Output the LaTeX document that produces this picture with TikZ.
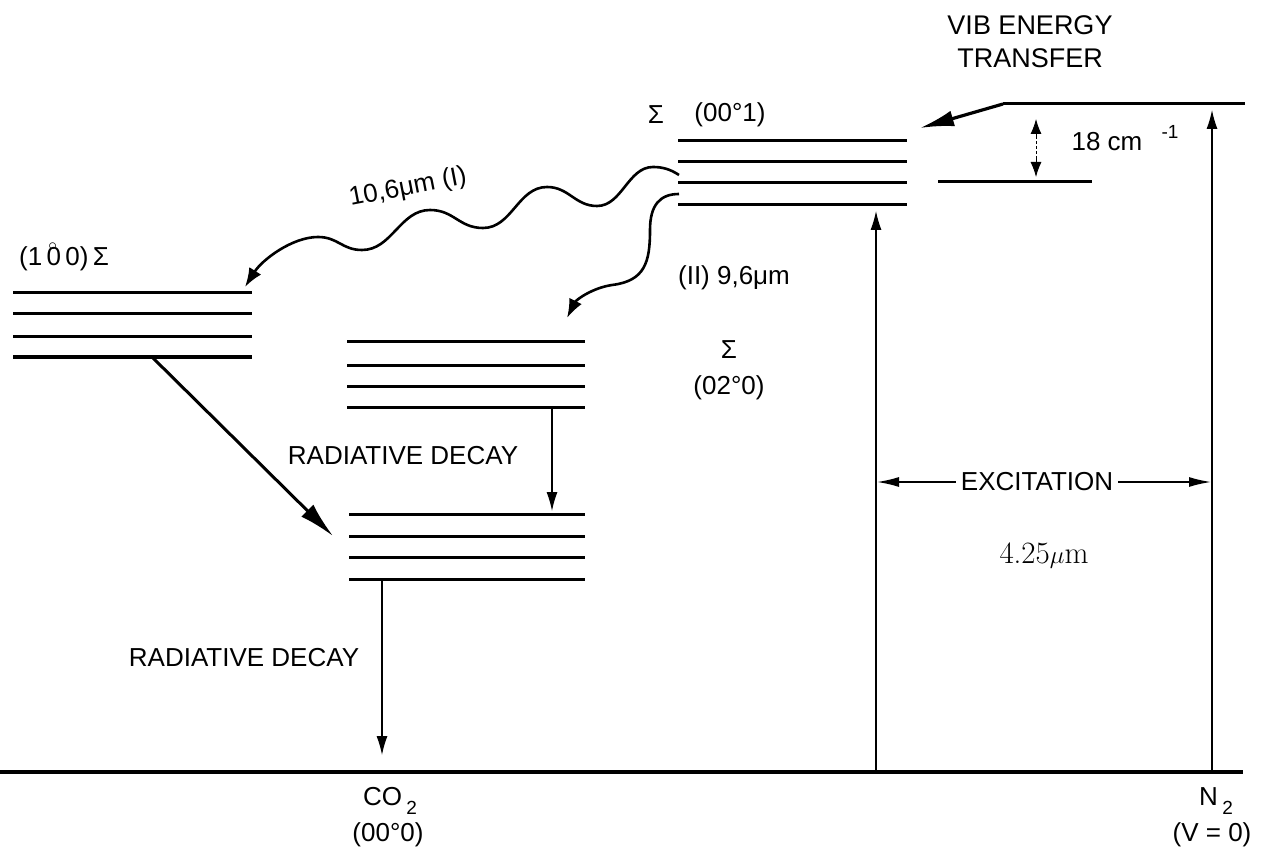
\documentclass[tikz,border=0pt]{standalone}
\usepackage{fontspec}
\usetikzlibrary{arrows.meta}
\newfontfamily\leroy{Liberation Sans}
\newcommand\ringzero{0\llap{\raisebox{15pt}{\fontsize{16}{16}\selectfont$\circ$}\hspace{4pt}}}
\newcommand\lowtwo{\raisebox{-0.35em}{\fontsize{19}{19}\selectfont 2}}
\begin{document}
\begin{tikzpicture}[x=1pt,y=-1pt,
  lvl/.style={line width=3pt},
  ground/.style={line width=3.2pt},
  lbl/.style={font=\leroy\fontsize{26}{32}\selectfont, inner sep=0pt, align=center},
  thinarrow/.style={line width=1.2pt,-{Latex[length=19pt,width=11pt]}},
  bigarrow/.style={line width=3pt,-{Latex[length=36pt,width=17pt]}},
  wavy/.style={line width=2.6pt,-{Latex[length=19pt,width=14pt]}},
  dimarrow/.style={line width=0.9pt,-{Latex[length=15pt,width=11pt]}},
  exarrow/.style={line width=1.6pt,{Latex[length=22pt,width=10pt]}-{Latex[length=22pt,width=10pt]}}
]
\useasboundingbox (0,0) rectangle (1263,858);

% ---------- energy levels ----------
\foreach \i/\y in {1/293,2/314,3/337,4/357}{
  \coordinate (A\i l) at (13,\y); \coordinate (A\i r) at (252,\y);
  \draw[lvl] (A\i l) -- (A\i r);}
\foreach \i/\y in {1/342,2/365,3/386,4/407}{
  \coordinate (B\i l) at (347,\y); \coordinate (B\i r) at (585,\y);
  \draw[lvl] (B\i l) -- (B\i r);}
\foreach \i/\y in {1/514,2/536,3/557,4/579}{
  \coordinate (C\i l) at (349,\y); \coordinate (C\i r) at (585,\y);
  \draw[lvl] (C\i l) -- (C\i r);}
\foreach \i/\y in {1/141,2/162,3/183,4/205}{
  \coordinate (D\i l) at (678,\y); \coordinate (D\i r) at (907,\y);
  \draw[lvl] (D\i l) -- (D\i r);}
\coordinate (NUl) at (1003,104); \coordinate (NUr) at (1245,104);
\draw[lvl] (NUl) -- (NUr);
\coordinate (NLl) at (938,182); \coordinate (NLr) at (1092,182);
\draw[lvl] (NLl) -- (NLr);
\coordinate (G0) at (0,772); \coordinate (G1) at (1243,772);
\draw[ground] (G0) -- (G1);

% ---------- arrows ----------
\coordinate (AdS) at (152,357); \coordinate (AdT) at (333,536);
\draw[bigarrow] (AdS) -- (AdT);
\coordinate (BdS) at (552,407); \coordinate (BdT) at (552,511);
\draw[thinarrow] (BdS) -- (BdT);
\coordinate (CdS) at (382,579); \coordinate (CdT) at (382,755);
\draw[thinarrow] (CdS) -- (CdT);
\coordinate (ExCb) at (876,772); \coordinate (ExCt) at (876,211);
\draw[thinarrow] (ExCb) -- (ExCt);
\coordinate (ExNb) at (1212,772); \coordinate (ExNt) at (1212,110);
\draw[thinarrow] (ExNb) -- (ExNt);
\coordinate (VibT) at (920,128);
\draw[line width=3.2pt,-{Latex[length=34pt,width=16pt]}] (NUl) -- (VibT);

% 18 cm^-1 dimension
\coordinate (Dm1) at (1036,136); \coordinate (Dm0) at (1036,119);
\coordinate (Dm2) at (1036,159); \coordinate (Dm3) at (1036,177);
\draw[line width=0.8pt, densely dashed] (Dm1) -- (Dm2);
\draw[dimarrow] (Dm1) -- (Dm0);
\draw[dimarrow] (Dm2) -- (Dm3);

% wavy emission arrows
\coordinate (W1s) at (679,175); \coordinate (W1t) at (245,287);
\draw[wavy] (W1s) .. controls (670,169) and (662,167) .. (653,167)
  .. controls (628,167) and (622,206) .. (597,206)
  .. controls (575,206) and (569,187) .. (547,187)
  .. controls (518,187) and (512,228) .. (483,228)
  .. controls (459,228) and (454,210) .. (430,210)
  .. controls (400,210) and (392,250) .. (362,250)
  .. controls (342,250) and (338,237) .. (318,237)
  .. controls (292,237) and (262,260) .. (W1t);
\coordinate (W2s) at (679,194); \coordinate (W2t) at (567,318);
\draw[wavy] (W2s) .. controls (660,194) and (650,205) .. (650,230)
  .. controls (650,262) and (645,281) .. (612,285)
  .. controls (592,288) and (576,300) .. (W2t);

% excitation
\coordinate (ExL) at (877,482); \coordinate (ExR) at (1211,482);
\draw[exarrow] (ExL) -- (ExR);
\node[lbl, fill=white, inner xsep=5pt, inner ysep=2pt] (exc) at (1037,482) {EXCITATION};
\node[font=\rmfamily\fontsize{31}{34}\selectfont, inner sep=0pt] (wl) at (1044,556) {4.25$\mu$m};

% ---------- labels ----------
\node[lbl, font=\leroy\fontsize{27}{33}\selectfont] (vib) at (1030,42) {VIB ENERGY\\TRANSFER};
\node[lbl] (cm) at (1107,142) {18 cm};
\node[lbl, font=\leroy\fontsize{19}{19}\selectfont] (cmexp) at (1170,132) {-1};
\node[lbl] (sD) at (656,115) {Σ};
\node[lbl] (lD) at (730,115) {(00°1)};
\node[lbl] (lA) at (64,257) {(1\,\ringzero\,0)\,Σ};
\node[lbl, rotate=11] (l106) at (408,188) {10,6μm (I)};
\node[lbl] (l96) at (734,278) {(II) 9,6μm};
\node[lbl] (sB) at (729,350) {Σ};
\node[lbl] (lB) at (729,388) {(02°0)};
\node[lbl] (rd1) at (403,456) {RADIATIVE DECAY};
\node[lbl] (rd2) at (244,658) {RADIATIVE DECAY};
\node[lbl] (co2) at (390,801) {CO\,\lowtwo};
\node[lbl] (co2s) at (388,835) {(00°0)};
\node[lbl] (n2) at (1216,801) {N\,\lowtwo};
\node[lbl] (n2s) at (1212,835) {(V = 0)};
\end{tikzpicture}
\end{document}
